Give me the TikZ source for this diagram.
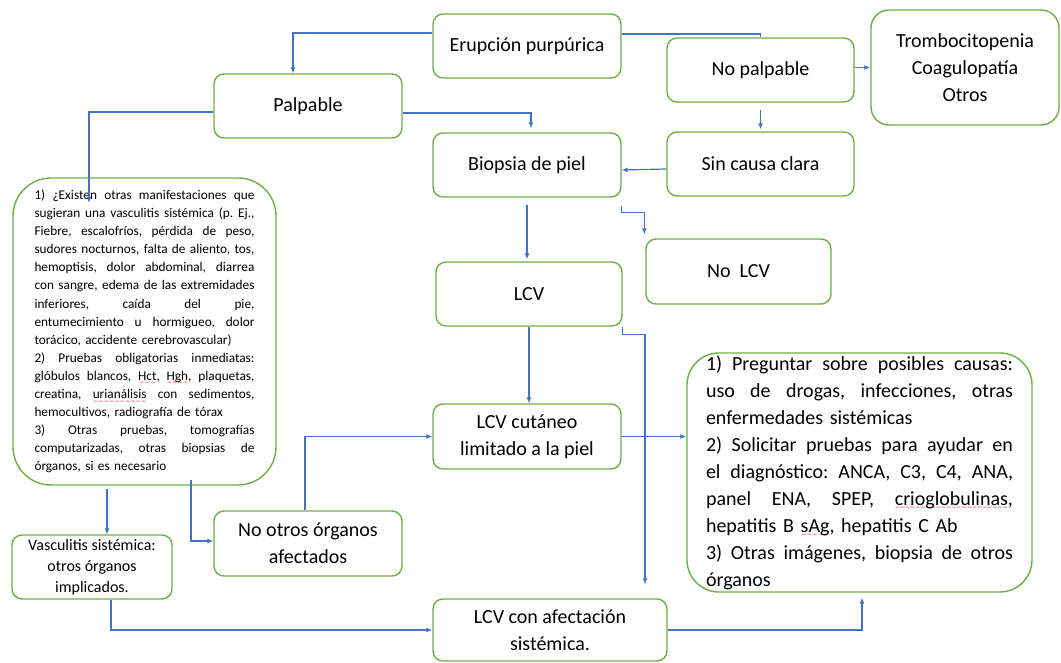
\documentclass[tikz,border=0pt]{standalone}
\usepackage{fontspec}
\setmainfont{Carlito}
\newfontfamily\wavefont{DejaVu Sans}
\usepackage{xcolor}
\usepackage{tikz}
\usetikzlibrary{arrows.meta,calc}
\definecolor{boxgreen}{RGB}{112,173,71}
\definecolor{linkblue}{RGB}{68,114,196}
\newcommand\spell[1]{\setbox0\hbox{#1}\rlap{\color{red}\raisebox{-4.5pt}{\hbox to\wd0{\wavefont\fontsize{6}{6}\selectfont\xleaders\hbox{∼}\hfil}}}\box0\relax}
\newcommand\jl[2][220pt]{\makebox[#1][s]{\spaceskip=.226em plus 3em minus .08em\relax #2}}
\frenchspacing
\setlength\parindent{0pt}

\begin{document}
\begin{tikzpicture}[x=1pt,y=-1pt,
  box/.style={draw=boxgreen,line width=1.4pt,rounded corners=10pt,align=center,
    inner sep=0pt,font=\fontsize{20}{27}\selectfont},
  link/.style={draw=linkblue,line width=1.2pt,-{Latex[length=6pt,width=5pt]}}]
\useasboundingbox (0,0) rectangle (1061,663);
\fill[white] (0,0) rectangle (1061,663);

\node[box,minimum width=188pt,minimum height=64pt] (erup) at (527,46) {Erupción purpúrica};
\node[box,minimum width=188pt,minimum height=64pt] (palp) at (308,106) {Palpable};
\node[box,minimum width=187pt,minimum height=64pt] (nopalp) at (760.5,70) {No palpable};
\node[box,rounded corners=18pt,minimum width=188pt,minimum height=115pt] (tromb) at (965,67.5) {Trombocitopenia\\Coagulopatía\\Otros};
\node[box,minimum width=188pt,minimum height=64pt] (biop) at (527,165) {Biopsia de piel};
\node[box,minimum width=187pt,minimum height=64pt] (sinc) at (760.5,164) {Sin causa clara};
\node[box,minimum width=185pt,minimum height=65pt] (nolcv) at (738.5,271.5) {No\ \ LCV};
\node[box,minimum width=186pt,minimum height=64pt] (lcv) at (529,294) {LCV};
\node[box,minimum width=188pt,minimum height=65pt] (lcvcut) at (527,436.5) {LCV cutáneo\\limitado a la piel};
\node[box,minimum width=188pt,minimum height=65pt] (nootros) at (308,543.5) {No otros órganos\\afectados};
\node[box,minimum width=160pt,minimum height=64pt,font=\fontsize{16}{21}\selectfont] (vasc) at (92,567) {Vasculitis sistémica:\\otros órganos\\implicados.};
\node[box,minimum width=234pt,minimum height=62pt] (lcvsis) at (550,630) {LCV con afectación\\sistémica.};

\node[box,rounded corners=38pt,minimum width=263pt,minimum height=307pt,text width=220pt,
  align=left,font=\fontsize{13.3}{18.1}\selectfont] (crit) at (144.5,331.5) {%
\jl{1) ¿Existen otras manifestaciones que}\\
\jl{sugieran una vasculitis sistémica (p. Ej.,}\\
\jl{Fiebre, escalofríos, pérdida de peso,}\\
\jl{sudores nocturnos, falta de aliento, tos,}\\
\jl{hemoptisis, dolor abdominal, diarrea}\\
\jl{con sangre, edema de las extremidades}\\
\jl{inferiores, caída del pie,}\\
\jl{entumecimiento u hormigueo, dolor}\\
torácico, accidente cerebrovascular)\\
\jl{2) Pruebas obligatorias inmediatas:}\\
\jl{glóbulos blancos, \spell{Hct}, \spell{Hgh}, plaquetas,}\\
\jl{creatina, \spell{urianálisis} con sedimentos,}\\
hemocultivos, radiografía de tórax\\
\jl{3) Otras pruebas, tomografías}\\
\jl{computarizadas, otras biopsias de}\\
órganos, si es necesario};

\node[box,rounded corners=32pt,minimum width=345pt,minimum height=239pt,text width=307pt,
  align=left] (rbox) at (859.5,472.5) {%
\jl[307pt]{1) Preguntar sobre posibles causas:}\\
\jl[307pt]{uso de drogas, infecciones, otras}\\
enfermedades sistémicas\\
\jl[307pt]{2) Solicitar pruebas para ayudar en}\\
\jl[307pt]{el diagnóstico: ANCA, C3, C4, ANA,}\\
\jl[307pt]{panel ENA, SPEP, \spell{crioglobulinas},}\\
hepatitis B \spell{sAg}, hepatitis C Ab\\
\jl[307pt]{3) Otras imágenes, biopsia de otros}\\
órganos};

\coordinate (critin) at (89,203);
\coordinate (critout) at (191,480);
\coordinate (vasctop) at ([xshift=15pt]vasc.north);

\draw[link] ([yshift=13pt]erup.west) -| ([xshift=-15pt]palp.north);
\draw[draw=linkblue,line width=1.2pt] ([yshift=12pt]erup.east) -| (nopalp.north);
\draw[link,shorten >=4pt] ([yshift=-7pt]palp.east) -| ([xshift=4pt]biop.north);
\draw[link] ([yshift=-6pt]palp.west) -| (critin);
\draw[link] (nopalp.east |- tromb.west) -- (tromb.west);
\draw[link,shorten <=7pt,shorten >=2pt] (nopalp.south) -- (sinc.north);
\draw[link] ([yshift=-5pt]sinc.west) -- ([yshift=-5pt]biop.east);
\draw[link,shorten <=7pt,shorten >=2pt] (biop.south) -- (biop.south |- lcv.north);
\draw[link,shorten >=4pt] ([yshift=-8pt]biop.south east) -- ++(0,7) -| ([xshift=-1pt]nolcv.north west);
\draw[link] (lcv.south) -- (lcv.south |- lcvcut.north);
\draw[link,shorten >=14pt] (lcv.south east) -- ++(0,8) -| ([xshift=95pt]lcvsis.north);
\draw[link] (lcvcut.east) -- (lcvcut.east -| rbox.west);
\draw[link] ([xshift=-3pt]nootros.north) |- (lcvcut.west);
\draw[link] (critout) |- ([yshift=2.5pt]nootros.west);
\draw[link,shorten <=3pt] (crit.south -| vasctop) -- (vasctop);
\draw[link] ([xshift=19pt]vasc.south) |- (lcvsis.west);
\draw[link,shorten >=5pt] (lcvsis.east) -| ([xshift=2.5pt]rbox.south);
\end{tikzpicture}
\end{document}
